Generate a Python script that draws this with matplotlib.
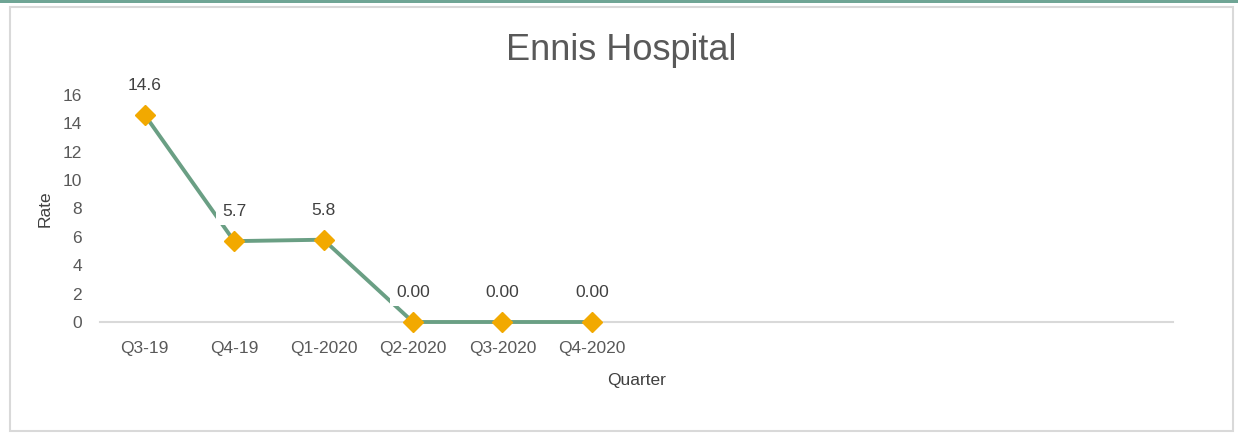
import matplotlib.pyplot as plt
from matplotlib.patches import Rectangle

plt.rcParams['font.family'] = ['Liberation Sans', 'DejaVu Sans']

# data
quarters = ['Q3-19', 'Q4-19', 'Q1-2020', 'Q2-2020', 'Q3-2020', 'Q4-2020',
            '', '', '', '', '', '']
rate = [14.6, 5.7, 5.8, 0.0, 0.0, 0.0]
rate_labels = ['14.6', '5.7', '5.8', '0.00', '0.00', '0.00']

fig = plt.figure(figsize=(12.38, 4.34), dpi=100)

# outer frame + top stripe
fig.patches.append(Rectangle((10 / 1238, 3 / 434), 1223 / 1238, 424 / 434,
                             transform=fig.transFigure, fill=False,
                             edgecolor='#d9d9d9', linewidth=1.5))
fig.patches.append(Rectangle((0, 1 - 3 / 434), 1, 3 / 434,
                             transform=fig.transFigure, facecolor='#6fa595',
                             edgecolor='none'))

ax = fig.add_axes([100 / 1238, 112 / 434, 1073 / 1238, 227 / 434])
x = list(range(len(quarters)))
ax.plot(x[:len(rate)], rate, color='#6a9f84', linewidth=2.8, marker='D',
        markersize=10, markerfacecolor='#f2a900', markeredgecolor='#f2a900',
        zorder=3, clip_on=False)

for i, (v, lab) in enumerate(zip(rate, rate_labels)):
    ax.annotate(lab, (i, v), xytext=(0, 22), textcoords='offset pixels',
                ha='center', va='bottom', fontsize=12.5, color='#404040',
                bbox=dict(boxstyle='square,pad=0.35', fc='white', ec='none'),
                zorder=4)

ax.set_xlim(-0.5, len(quarters) - 0.5)
ax.set_ylim(0, 16)
ax.set_yticks(range(0, 17, 2))
ax.set_xticks(x)
ax.set_xticklabels(quarters)
ax.tick_params(axis='both', length=0, labelsize=12.5, colors='#595959')
ax.tick_params(axis='x', pad=14)
ax.tick_params(axis='y', pad=13)
for s in ['top', 'right', 'left']:
    ax.spines[s].set_visible(False)
ax.spines['bottom'].set_color('#d9d9d9')
ax.spines['bottom'].set_linewidth(1.5)

ax.set_ylabel('Rate', fontsize=12.5, color='#404040', labelpad=7)
ax.set_xlabel('Quarter', fontsize=12.5, color='#404040', labelpad=12)
fig.text(621 / 1238, 1 - 50 / 434, 'Ennis Hospital', ha='center', va='center',
         fontsize=26, color='#595959')

plt.savefig('out.png', dpi=100)
